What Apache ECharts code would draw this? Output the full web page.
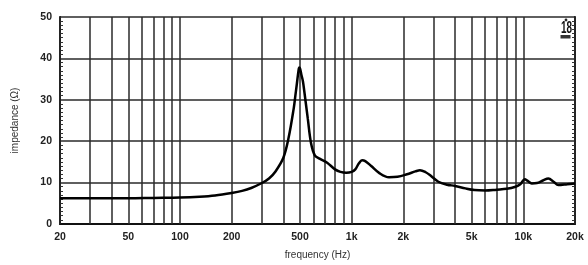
<!DOCTYPE html>
<html>
<head>
<meta charset="utf-8">
<script src="https://cdn.jsdelivr.net/npm/echarts@6/dist/echarts.min.js"></script>
<style>
html,body{margin:0;padding:0;background:#fff;}
#chart{width:588px;height:265px;}
</style>
</head>
<body>
<div id="chart"></div>
<script>
var freqHz = [20, 30, 50, 70, 100, 130, 160, 200, 230, 260, 300, 330, 360, 400, 430, 460, 470, 480, 490, 495, 500, 510, 520, 530, 555, 580, 610, 650, 720, 800, 860, 930, 1000, 1050, 1100, 1150, 1200, 1300, 1450, 1650, 1850, 2100, 2350, 2500, 2700, 2900, 3200, 3600, 4000, 4600, 5200, 6000, 7000, 8000, 9000, 9600, 10200, 10600, 11200, 12000, 13000, 14000, 15000, 16000, 18000, 20000];
var impedanceOhm = [6.2, 6.2, 6.2, 6.3, 6.4, 6.6, 6.9, 7.5, 8.0, 8.7, 9.9, 11.0, 12.7, 16.0, 21.0, 28.0, 31.0, 34.0, 37.0, 37.8, 37.6, 36.0, 34.5, 32.0, 25.5, 19.5, 16.6, 15.8, 14.8, 13.2, 12.6, 12.4, 12.6, 13.2, 14.6, 15.4, 15.2, 14.0, 12.3, 11.3, 11.4, 12.0, 12.7, 13.0, 12.5, 11.6, 10.2, 9.5, 9.2, 8.6, 8.2, 8.1, 8.3, 8.5, 9.0, 9.6, 10.8, 10.4, 9.8, 9.9, 10.5, 11.0, 10.2, 9.4, 9.6, 9.8];
var xTickValues = [20, 50, 100, 200, 500, 1000, 2000, 5000, 10000, 20000];
var xTickLabels = ['20', '50', '100', '200', '500', '1k', '2k', '5k', '10k', '20k'];
var gridFreqs = [20, 30, 40, 50, 60, 70, 80, 90, 100, 200, 300, 400, 500, 600, 700, 800, 900, 1000, 2000, 3000, 4000, 5000, 6000, 7000, 8000, 9000, 10000, 20000];

var fontFam = '"Liberation Sans", Arial, sans-serif';
var chart = echarts.init(document.getElementById('chart'), null, {renderer: 'canvas'});

var seriesData = freqHz.map(function (f, i) { return [f, impedanceOhm[i]]; });

var gridLineData = gridFreqs.map(function (f) {
  var idx = xTickValues.indexOf(f);
  return {
    xAxis: f,
    label: {
      show: idx >= 0,
      formatter: idx >= 0 ? xTickLabels[idx] : ''
    }
  };
});

chart.setOption({
  animation: false,
  backgroundColor: '#fff',
  grid: {left: 60, right: 13, top: 17, bottom: 37},
  xAxis: {
    type: 'log',
    logBase: 10,
    min: 20,
    max: 20000,
    name: 'frequency (Hz)',
    nameLocation: 'middle',
    nameGap: 26,
    nameTextStyle: {fontFamily: fontFam, fontSize: 10, color: '#333'},
    axisLine: {show: true, onZero: false, lineStyle: {color: '#111', width: 2}},
    axisTick: {show: false},
    axisLabel: {show: false},
    splitLine: {show: false},
    minorTick: {show: false},
    minorSplitLine: {show: false}
  },
  yAxis: [{
    type: 'value',
    min: 0,
    max: 50,
    interval: 10,
    name: 'impedance (\u03a9)',
    nameLocation: 'middle',
    nameRotate: 90,
    nameGap: 40,
    nameTextStyle: {fontFamily: fontFam, fontSize: 10, color: '#333'},
    axisLine: {show: true, lineStyle: {color: '#111', width: 2}},
    axisTick: {show: false, inside: true},
    minorTick: {show: true, splitNumber: 10, length: 3, lineStyle: {color: '#333', width: 1}},
    axisLabel: {fontFamily: fontFam, fontSize: 10.5, fontWeight: 'bold', color: '#222', margin: 8},
    splitLine: {show: true, lineStyle: {color: '#2a2a2a', width: 1.5}}
  }, {
    type: 'value',
    min: 0,
    max: 50,
    interval: 10,
    position: 'right',
    axisLine: {show: true, lineStyle: {color: '#111', width: 2}},
    axisTick: {show: false, inside: true},
    minorTick: {show: true, splitNumber: 10, length: 3, lineStyle: {color: '#333', width: 1}},
    axisLabel: {show: false},
    splitLine: {show: false}
  }],
  series: [{
    type: 'line',
    data: [],
    z: 1,
    silent: true,
    markLine: {
      silent: true,
      symbol: ['none', 'none'],
      animation: false,
      lineStyle: {type: 'solid', color: '#2a2a2a', width: 1.5},
      label: {
        position: 'start',
        distance: 8,
        fontFamily: fontFam,
        fontSize: 10.5,
        fontWeight: 'bold',
        color: '#222'
      },
      emphasis: {disabled: true},
      data: gridLineData
    }
  }, {
    type: 'line',
    data: seriesData,
    z: 5,
    smooth: 0.35,
    showSymbol: false,
    symbol: 'none',
    lineStyle: {color: '#000', width: 2.5}
  }],
  graphic: [
    {type: 'circle', shape: {cx: 566, cy: 20, r: 1.4}, style: {fill: '#222'}, z: 11},
    {type: 'text', x: 561, y: 21, scaleX: 0.62, style: {text: '18', fontSize: 16, fontWeight: 'bold', fontFamily: fontFam, fill: '#111'}, z: 11},
    {type: 'rect', shape: {x: 560.5, y: 35, width: 10, height: 3.5}, style: {fill: '#333'}, z: 11}
  ]
});
</script>
</body>
</html>
